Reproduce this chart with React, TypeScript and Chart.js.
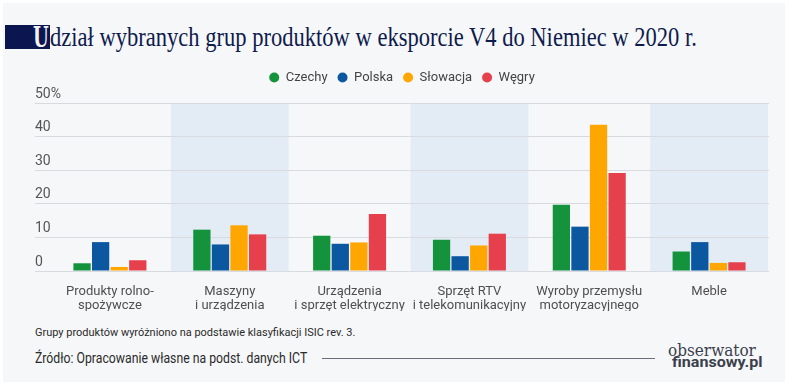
import React, { useEffect, useLayoutEffect, useRef } from "react";
import { Chart, registerables } from "chart.js";

Chart.register(...registerables);

const categories: string[][] = [
  ["Produkty rolno-", "spożywcze"],
  ["Maszyny", "i urządzenia"],
  ["Urządzenia", "i sprzęt elektryczny"],
  ["Sprzęt RTV", "i telekomunikacyjny"],
  ["Wyroby przemysłu", "motoryzacyjnego"],
  ["Meble"],
];
const seriesNames = ["Czechy", "Polska", "Słowacja", "Węgry"];
const czechy = [2.3, 12.3, 10.5, 9.3, 19.7, 5.8];
const polska = [8.6, 7.9, 8.1, 4.4, 13.2, 8.6];
const slowacja = [1.2, 13.6, 8.5, 7.6, 43.5, 2.4];
const wegry = [3.2, 10.9, 17.0, 11.1, 29.2, 2.6];
const seriesColors = ["#14923c", "#0b58a1", "#ffa600", "#e5404b"];
const yTickValues = [0, 10, 20, 30, 40, 50];
const yTickLabels = ["0", "10", "20", "30", "40", "50%"];
const shadedCategories = [1, 3, 5];

const TITLE_REST = "dział wybranych grup produktów w eksporcie V4 do Niemiec w 2020 r.";
const FOOTNOTE = "Grupy produktów wyróżniono na podstawie klasyfikacji ISIC rev. 3.";
const SOURCE = "Źródło: Opracowanie własne na podst. danych ICT";

function FitText(props: {
  text: string;
  left: number;
  top: number;
  width: number;
  font: string;
  color: string;
  extra?: React.CSSProperties;
}) {
  const ref = useRef<HTMLSpanElement>(null);
  useLayoutEffect(() => {
    const el = ref.current;
    if (!el) return;
    el.style.transform = "none";
    const w = el.offsetWidth;
    if (w > 0) el.style.transform = `scaleX(${props.width / w})`;
  }, [props.text, props.width, props.font]);
  return (
    <span
      ref={ref}
      style={{
        position: "absolute",
        left: props.left,
        top: props.top,
        whiteSpace: "nowrap",
        transformOrigin: "0 0",
        font: props.font,
        color: props.color,
        lineHeight: 1,
        ...(props.extra || {}),
      }}
    >
      {props.text}
    </span>
  );
}

const bandPlugin = {
  id: "bands",
  beforeDraw(chart: any) {
    const { ctx, chartArea, scales } = chart;
    const x = scales.x;
    const step = (chartArea.right - chartArea.left) / categories.length;
    ctx.save();
    ctx.fillStyle = "#e3ecf5";
    shadedCategories.forEach((i) => {
      const c = x.getPixelForValue(i);
      ctx.fillRect(c - step / 2 + 1, chartArea.top, step - 2, chartArea.bottom - chartArea.top);
    });
    ctx.restore();
  },
};

function BarChart() {
  const canvasRef = useRef<HTMLCanvasElement>(null);
  useEffect(() => {
    const canvas = canvasRef.current;
    if (!canvas) return;
    const data = [czechy, polska, slowacja, wegry];
    const chart = new Chart(canvas, {
      type: "bar",
      data: {
        labels: categories,
        datasets: seriesNames.map((name, i) => ({
          label: name,
          data: data[i],
          backgroundColor: seriesColors[i],
          borderWidth: 0,
          categoryPercentage: 0.62,
          barPercentage: 0.93,
        })),
      },
      options: {
        responsive: false,
        animation: false,
        devicePixelRatio: 1,
        layout: { padding: { top: 61, left: 35, right: 19, bottom: 0 } },
        plugins: {
          legend: {
            display: true,
            position: "top",
            align: "center",
            labels: {
              usePointStyle: true,
              pointStyle: "circle",
              pointStyleWidth: 10,
              boxHeight: 7,
              padding: 10,
              color: "#444",
              font: { family: "Roboto", size: 13 },
            },
          },
          tooltip: { enabled: false },
        },
        scales: {
          xTop: {
            type: "category",
            position: "top",
            labels: categories.map(() => ""),
            grid: { display: false },
            border: { display: false },
            ticks: { display: false },
            afterFit: (s: any) => {
              s.height = 9;
            },
          },
          x: {
            grid: { display: false },
            border: { display: false },
            ticks: {
              color: "#4f4f4f",
              padding: 6,
              maxRotation: 0,
              autoSkip: false,
              font: { family: "Roboto", size: 13, lineHeight: 1.05 },
            },
            afterFit: (s: any) => {
              s.height = 40;
            },
          },
          y: {
            min: yTickValues[0],
            max: yTickValues[yTickValues.length - 1],
            afterBuildTicks: (s: any) => {
              s.ticks = yTickValues.map((v) => ({ value: v }));
            },
            grid: {
              color: "#d7dbe0",
              lineWidth: 1,
              drawTicks: true,
              tickLength: 15,
            },
            border: { display: false },
            ticks: {
              mirror: true,
              padding: -15,
              labelOffset: -9,
              color: "#555",
              font: { family: "Roboto", size: 14 },
              callback: (_v: any, i: number) => yTickLabels[i],
            },
            afterFit: (s: any) => {
              s.width = 15;
            },
          },
        },
      },
      plugins: [bandPlugin],
    } as any);
    return () => chart.destroy();
  }, []);
  return (
    <canvas
      ref={canvasRef}
      width={788}
      height={311}
      style={{ position: "absolute", left: 0, top: 0, width: 788, height: 311 }}
    />
  );
}

export default function App() {
  return (
    <div
      style={{
        position: "fixed",
        left: 0,
        top: 0,
        width: 788,
        height: 385,
        background: "#ffffff",
        overflow: "hidden",
      }}
    >
      <div
        style={{
          position: "absolute",
          left: 3,
          top: 3,
          width: 782,
          height: 379,
          background: "#f6f7f9",
        }}
      />
      <div
        style={{
          position: "absolute",
          left: 5,
          top: 25,
          width: 45,
          height: 24,
          background: "#0b1650",
        }}
      />
      <FitText
        text="U"
        left={33}
        top={24}
        width={16}
        font="bold 27px 'DejaVu Serif'"
        color="#f2f2f5"
      />
      <FitText
        text={TITLE_REST}
        left={50}
        top={24}
        width={647}
        font="27px 'Liberation Serif'"
        color="#0e1b4d"
      />
      <BarChart />
      <FitText
        text={FOOTNOTE}
        left={35}
        top={327}
        width={320}
        font="11.5px Roboto"
        color="#2a2a2a"
      />
      <FitText
        text={SOURCE}
        left={35}
        top={351}
        width={272}
        font="14px Roboto"
        color="#2a2a2a"
      />
      <div
        style={{
          position: "absolute",
          left: 322,
          top: 358,
          width: 333,
          height: 1,
          background: "#6a6e7a",
        }}
      />
      <FitText
        text="obserwator"
        left={668}
        top={342}
        width={88}
        font="17px 'DejaVu Serif'"
        color="#3b3f4c"
      />
      <FitText
        text="finansowy.pl"
        left={672}
        top={355}
        width={90}
        font="bold 15px Roboto"
        color="#3b3f4c"
      />
    </div>
  );
}
